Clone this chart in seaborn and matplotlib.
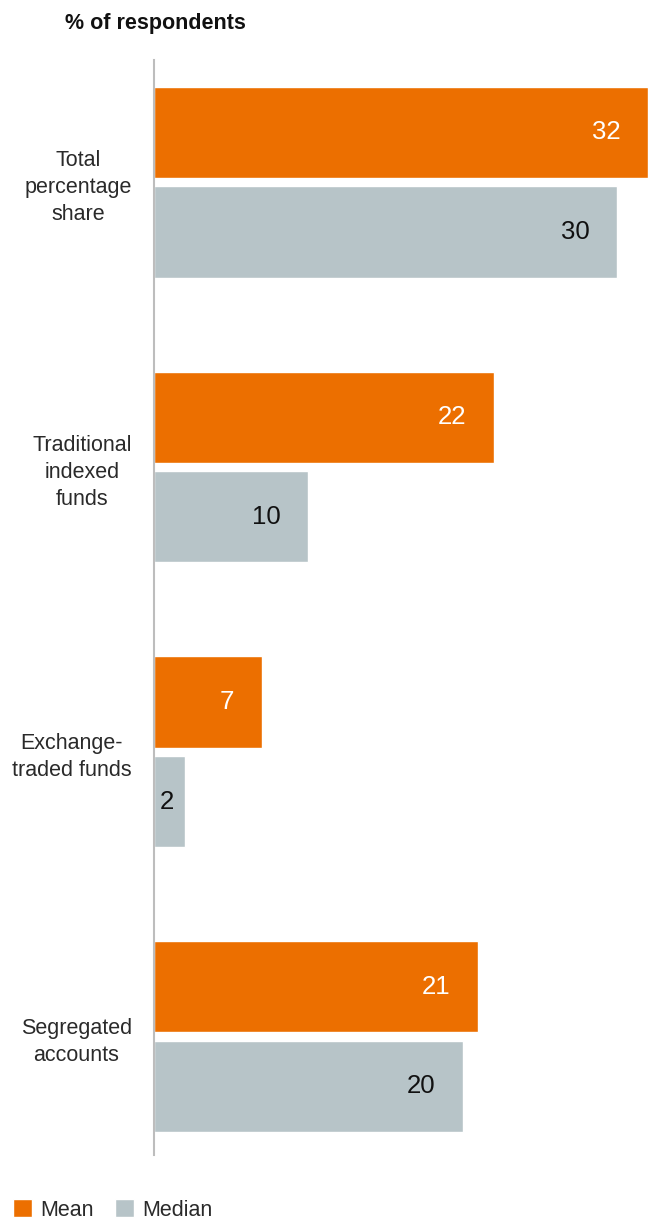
import matplotlib
matplotlib.use("Agg")
import matplotlib.pyplot as plt
import seaborn as sns
import pandas as pd

categories = ["Total\npercentage\nshare", "Traditional\nindexed\nfunds",
              "Exchange-\ntraded funds", "Segregated\naccounts"]
mean_values = [32, 22, 7, 21]
median_values = [30, 10, 2, 20]
series_names = ["Mean", "Median"]
palette = {"Mean": "#EC6F00", "Median": "#B7C4C8"}

df = pd.DataFrame({
    "category": categories * 2,
    "value": mean_values + median_values,
    "series": [series_names[0]] * len(categories) + [series_names[1]] * len(categories),
})

sns.set_theme(style="white")
plt.rcParams["font.family"] = ["Liberation Sans", "DejaVu Sans"]

W, H, DPI = 650, 1222, 100
fig = plt.figure(figsize=(W / DPI, H / DPI), dpi=DPI)
ax = fig.add_axes([154 / W, 1 - 1155 / H, 494 / W, (1155 - 60) / H])

sns.barplot(data=df, y="category", x="value", hue="series", orient="h",
            palette=palette, width=0.70, gap=0.085, saturation=1,
            order=categories, hue_order=series_names, ax=ax, legend=True)

ax.set_xlim(0, 32)
ax.set_ylim(3.416, -0.429)
ax.set_xlabel("")
ax.set_ylabel("")
ax.set_xticks([])
for s in ["top", "right", "bottom"]:
    ax.spines[s].set_visible(False)
ax.spines["left"].set_color("#BDBDBD")
ax.spines["left"].set_linewidth(1.5)

ax.tick_params(axis="y", length=0, pad=16)
ax.set_yticks(range(len(categories)))
ax.set_yticklabels(categories, fontsize=15.5, color="#2a2a2a",
                   multialignment="center", linespacing=1.38)

# value labels inside the bar ends
text_colors = {"Mean": "white", "Median": "#111111"}
for container, name in zip(ax.containers, series_names):
    for bar in container:
        val = bar.get_width()
        yc = bar.get_y() + bar.get_height() / 2
        bar_px = val / 32 * 494
        if bar_px < 60:
            ax.annotate(f"{val:g}", (val / 2, yc), xytext=(-2, 0),
                        textcoords="offset points", ha="center", va="center",
                        fontsize=18.5, color=text_colors[name])
        else:
            ax.annotate(f"{val:g}", (val, yc), xytext=(-20, 0),
                        textcoords="offset points", ha="right", va="center",
                        fontsize=18.5, color=text_colors[name])

handles, labels = ax.get_legend_handles_labels()
ax.get_legend().remove()
fig.legend(handles, labels, loc="center left",
           bbox_to_anchor=(13 / W, 1 - 1210 / H), ncol=2, frameon=False,
           fontsize=15.5, handlelength=0.9, handleheight=0.9,
           handletextpad=0.35, columnspacing=1.0, borderpad=0,
           borderaxespad=0, labelcolor="#2a2a2a")

fig.text(65 / W, 1 - 24 / H, "% of respondents", fontsize=15.5,
         fontweight="bold", color="#111111", ha="left", va="center")

fig.savefig("out.png", dpi=DPI)
